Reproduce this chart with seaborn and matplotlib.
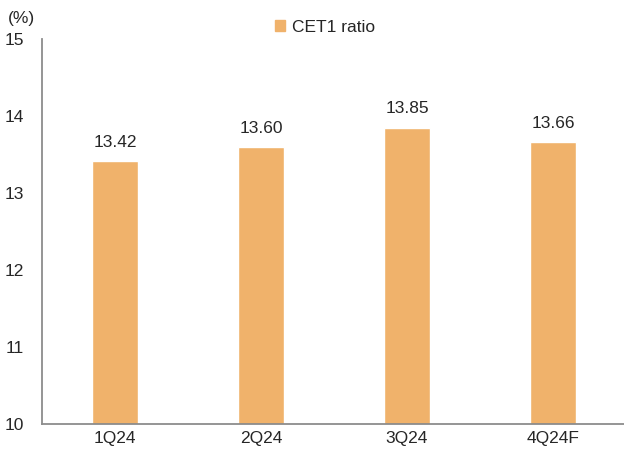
import matplotlib
matplotlib.use("Agg")
import matplotlib.pyplot as plt
import seaborn as sns
import pandas as pd
from matplotlib.ticker import FixedLocator
from matplotlib.patches import Patch

categories = ["1Q24", "2Q24", "3Q24", "4Q24F"]
cet1 = [13.42, 13.60, 13.85, 13.66]
labels = ["13.42", "13.60", "13.85", "13.66"]
series_name = "CET1 ratio"

sns.set_style("white")
plt.rcParams['font.family'] = ['Liberation Sans', 'DejaVu Sans']

df = pd.DataFrame({"quarter": categories, "value": cet1})
color = "#F0B26B"
gray = "#8C8C8C"

fig = plt.figure(figsize=(6.24, 4.59), dpi=100)
ax = fig.add_axes([42/624, 1 - 424/459, 584/624, (424-39)/459])
sns.barplot(data=df, x="quarter", y="value", color=color, width=0.31,
            saturation=1, ax=ax)
ax.set_ylim(10, 15)
ax.set_xlim(-0.5, 3.5)
ax.set_yticks([10, 11, 12, 13, 14, 15])
ax.set_xlabel("")
ax.set_ylabel("")
for s in ["top", "right"]:
    ax.spines[s].set_visible(False)
for s in ["left", "bottom"]:
    ax.spines[s].set_color(gray)
    ax.spines[s].set_linewidth(1.3)
ax.tick_params(axis="y", direction="in", length=5, color=gray, width=1.1,
               labelsize=12.5, pad=13)
ax.tick_params(axis="x", which="major", length=0, labelsize=12.5, pad=5)
ax.xaxis.set_minor_locator(FixedLocator([0.5, 1.5, 2.5]))
ax.tick_params(axis="x", which="minor", direction="in", length=5, color=gray, width=1.1)

for i, (v, t) in enumerate(zip(cet1, labels)):
    ax.annotate(t, (i, v), xytext=(0, 8), textcoords="offset points",
                ha="center", va="bottom", fontsize=12.5)

fig.text(8/624, 1 - 18/459, "(%)", fontsize=12.5, ha="left", va="center")
ax.legend(handles=[Patch(color=color, label=series_name)], loc="upper center",
          bbox_to_anchor=(0.485, 1.09), frameon=False, fontsize=12.5,
          handlelength=0.6, handleheight=0.6, handletextpad=0.4)

fig.savefig("out.png", dpi=100)
